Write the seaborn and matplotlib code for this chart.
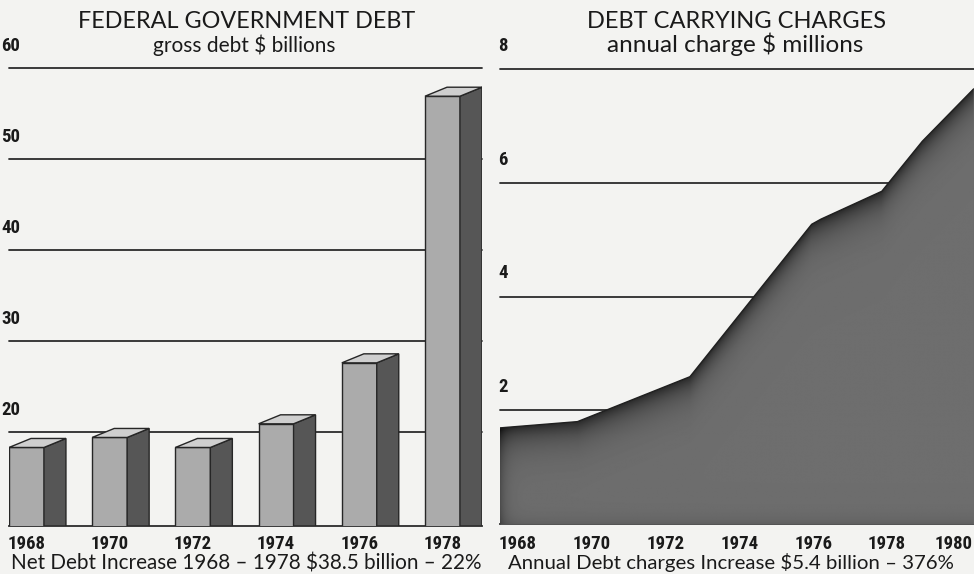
import numpy as np
import matplotlib
matplotlib.use("Agg")
import matplotlib.pyplot as plt
import seaborn as sns
from matplotlib import font_manager as fm
from matplotlib.font_manager import FontProperties
from matplotlib.patches import Polygon
from matplotlib.transforms import ScaledTranslation, blended_transform_factory

# ---------------- data ----------------
debt_years = ["1968", "1970", "1972", "1974", "1976", "1978"]
debt_values = [18.3, 19.4, 18.3, 20.9, 27.6, 56.9]
debt_yticks = [20, 30, 40, 50, 60]

charge_years = [1968, 1970.1, 1973.15, 1976.45, 1976.7, 1978.35, 1979.45, 1980.84]
charge_values = [1.69, 1.80, 2.59, 5.27, 5.36, 5.85, 6.73, 7.65]
charge_yticks = [2, 4, 6, 8]
charge_xticks = [1968, 1970, 1972, 1974, 1976, 1978, 1980]

left_title = "FEDERAL GOVERNMENT DEBT"
left_sub = "gross debt $ billions"
left_caption = "Net Debt Increase 1968 \u2013 1978 $38.5 billion \u2013 22%"
right_title = "DEBT CARRYING CHARGES"
right_sub = "annual charge $ millions"
right_caption = "Annual Debt charges Increase $5.4 billion \u2013 376%"

# ---------------- fonts ----------------
sns.set_theme(style="white")
fonts = fm.fontManager.ttflist
names = {f.name for f in fonts}

def pick(cands, default="DejaVu Sans"):
    for c in cands:
        if c in names:
            return c
    return default

def is_cond(f):
    n = (f.name + " " + str(f.fname)).lower()
    return (str(f.stretch) in ("condensed", "semi-condensed", "extra-condensed",
                               "ultra-condensed")
            or "narrow" in n or "condensed" in n or "cond" in n)

def wnum(w):
    try:
        return int(w)
    except Exception:
        return {"bold": 700, "heavy": 800, "black": 900, "semibold": 600,
                "demibold": 600, "extra bold": 800}.get(str(w).lower(), 400)

cands = [f for f in fonts if is_cond(f) and wnum(f.weight) >= 600
         and "mono" not in f.name.lower() and "serif" not in f.name.lower()
         and "cjk" not in f.name.lower()]
pref = ["Liberation Sans Narrow", "Roboto Condensed", "Noto Sans",
        "Noto Sans Condensed", "Open Sans", "Open Sans Condensed", "DejaVu Sans"]
cands.sort(key=lambda f: (pref.index(f.name) if f.name in pref else 99,
                          abs(wnum(f.weight) - 700)))
if cands:
    num_fp = FontProperties(fname=cands[0].fname)
    num_size = 13.5
else:
    num_fp = FontProperties(family=pick(["Roboto", "Liberation Sans"]),
                            weight="bold")
    num_size = 12
num_fp.set_size(num_size)

title_font = pick(["Lato", "Open Sans", "Roboto", "Noto Sans"])
plt.rcParams["font.family"] = [title_font, "DejaVu Sans"]

BG = "#f3f3f1"
LINE = "#2b2b2b"
TXT = "#1a1a1a"
W, H = 974, 574

fig = plt.figure(figsize=(W / 100, H / 100), dpi=100, facecolor=BG)

# ---------------- left: bar chart ----------------
ax1 = fig.add_axes([9 / W, 48 / H, 473 / W, 458 / H])
ax1.set_facecolor(BG)
sns.barplot(x=debt_years, y=debt_values, width=0.42, color="#ababab",
            saturation=1, edgecolor="#262626", linewidth=1.0, ax=ax1, zorder=3)
ax1.set_xlim(-0.21, 5.475)
ylo1 = 9.67
ax1.set_ylim(ylo1, 60)

px_x = 473 / (5.475 + 0.21)
px_y = 458 / (60 - ylo1)
ddx = 22 / px_x
ddy = 9 / px_y
for p in list(ax1.patches):
    l = p.get_x()
    r = l + p.get_width()
    v = p.get_height()
    side = Polygon([(r, ylo1), (r + ddx, ylo1), (r + ddx, v + ddy), (r, v)],
                   closed=True, facecolor="#565656", edgecolor="#262626",
                   lw=1.0, zorder=3)
    top = Polygon([(l, v), (r, v), (r + ddx, v + ddy), (l + ddx, v + ddy)],
                  closed=True, facecolor="#cfcfcf", edgecolor="#262626",
                  lw=1.0, zorder=3)
    ax1.add_patch(side)
    ax1.add_patch(top)

for t in debt_yticks:
    ax1.axhline(t, color=LINE, lw=1.3, zorder=1, clip_on=False)
ax1.set_yticks([])
ax1.set_xlabel("")
ax1.set_ylabel("")
ax1.tick_params(axis="x", length=0, pad=6.5)
for lab in ax1.get_xticklabels():
    lab.set_fontproperties(num_fp)
    lab.set_color(TXT)
for s in ["top", "left", "right"]:
    ax1.spines[s].set_visible(False)
ax1.spines["bottom"].set_color(LINE)
ax1.spines["bottom"].set_linewidth(1.3)

tr1 = blended_transform_factory(ax1.transAxes, ax1.transData) + \
    ScaledTranslation(-8 / 100, 22 / 100, fig.dpi_scale_trans)
for t in debt_yticks:
    ax1.text(0, t, str(t), transform=tr1, ha="left", va="center",
             fontproperties=num_fp, color=TXT)

# ---------------- right: area chart ----------------
ax2 = fig.add_axes([500 / W, 50 / H, 474 / W, 455 / H])
ax2.set_facecolor(BG)
x0, x1 = 1968, 1980.85
ax2.set_xlim(x0, x1)
ax2.set_ylim(0, 8)
for t in charge_yticks:
    ax2.axhline(t, color=LINE, lw=1.3, zorder=1, clip_on=False)

poly = ax2.fill_between(charge_years, charge_values, 0, color="#6b6b6b",
                        lw=0, zorder=3)
# shading: darker along the upper edge and the left edge
nx, ny = 480, 460
gx = np.linspace(x0, x1, nx)
gy = np.linspace(0, 8, ny)
GX, GY = np.meshgrid(gx, gy)
top_y = np.interp(gx, charge_years, charge_values)[None, :]
ppx = 474 / (x1 - x0)
ppy = 455 / 8
dist = np.clip((top_y - GY) * ppy, 0, None)
left_d = (GX - x0) * ppx
shade = 0.43 - 0.27 * np.exp(-dist / 16) - 0.12 * np.exp(-left_d / 6) \
    - 0.05 * np.exp(-GY * ppy / 8)
im = ax2.imshow(shade, extent=[x0, x1, 0, 8], origin="lower", aspect="auto",
                cmap="gray", vmin=0, vmax=1, zorder=3.5,
                interpolation="bilinear")
im.set_clip_path(poly.get_paths()[0], transform=ax2.transData)
sns.lineplot(x=charge_years, y=charge_values, ax=ax2, color="#202020",
             lw=1.0, zorder=4)
ax2.set_xlim(x0, x1)
ax2.set_ylim(0, 8)
ax2.set_yticks([])
ax2.set_xticks(charge_xticks)
ax2.set_xticklabels([str(v) for v in charge_xticks])
ax2.tick_params(axis="x", length=0, pad=8)
xlabs = ax2.get_xticklabels()
for i, lab in enumerate(xlabs):
    lab.set_fontproperties(num_fp)
    lab.set_ha("left")
    lab.set_color(TXT)
    shift = -8 if i == len(xlabs) - 1 else -1
    lab.set_transform(lab.get_transform() +
                      ScaledTranslation(shift / 100, 0, fig.dpi_scale_trans))
for s in ["top", "left", "right"]:
    ax2.spines[s].set_visible(False)
ax2.spines["bottom"].set_color(LINE)
ax2.spines["bottom"].set_linewidth(1.3)
ax2.set_xlabel("")
ax2.set_ylabel("")

tr2 = blended_transform_factory(ax2.transAxes, ax2.transData) + \
    ScaledTranslation(-2 / 100, 23 / 100, fig.dpi_scale_trans)
for t in charge_yticks:
    ax2.text(0, t, str(t), transform=tr2, ha="left", va="center",
             fontproperties=num_fp, color=TXT)

# ---------------- titles and captions ----------------
renderer = fig.canvas.get_renderer()

def fitted(xc, ybase, s, target_w, size):
    t = fig.text(xc / W, 1 - ybase / H, s, ha="center", va="baseline",
                 size=size, weight="normal", color=TXT)
    w = t.get_window_extent(renderer).width
    if w > 0:
        t.set_size(size * target_w / w)
    return t

fitted(247, 28, left_title, 337, 15)
fitted(244, 52, left_sub, 182, 13)
fitted(246, 569, left_caption, 472, 14)
fitted(737, 28, right_title, 299, 15)
fitted(735, 52, right_sub, 255, 13)
fitted(731, 569, right_caption, 447, 14)

fig.savefig("out.png", dpi=100, facecolor=BG)
